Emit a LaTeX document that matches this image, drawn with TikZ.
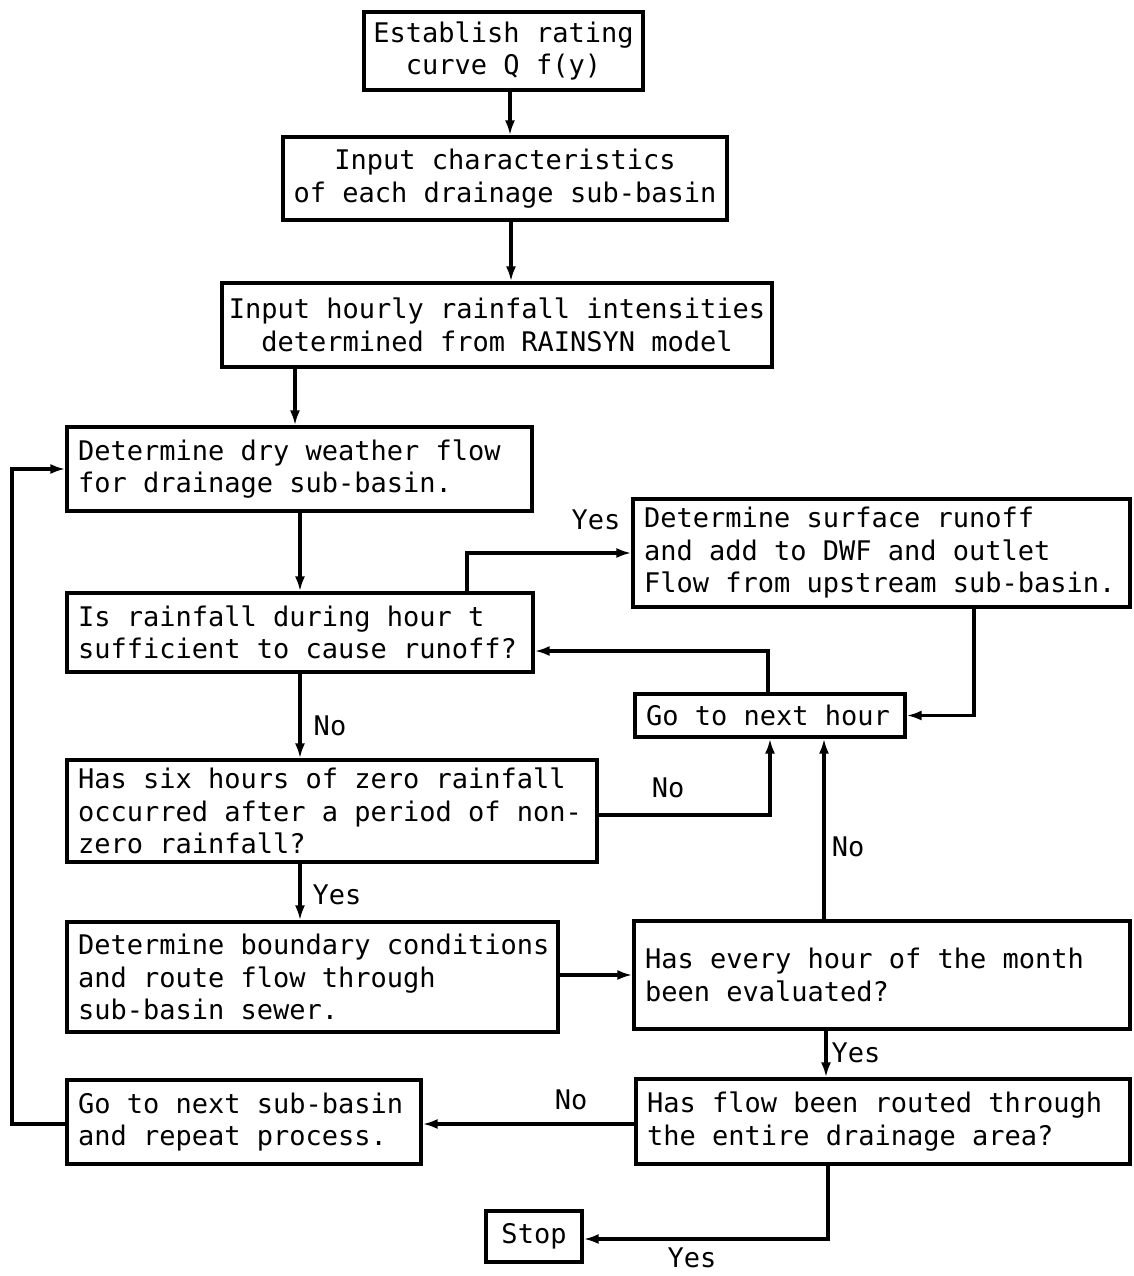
\documentclass[tikz,border=0pt]{standalone}
\usepackage{fontspec}
\newfontfamily\monofam{DejaVu Sans Mono}
\usetikzlibrary{arrows.meta}
\begin{document}
\begin{tikzpicture}[x=1pt,y=-1pt,
  every node/.style={font=\monofam\fontsize{27pt}{32.5pt}\selectfont},
  box/.style={draw, line width=3.2pt, inner xsep=11pt, inner ysep=4pt},
  cbox/.style={box, align=center, inner xsep=6pt},
  lbox/.style={box, align=left, execute at begin node={\spaceskip=0pt\xspaceskip=0pt}},
  arr/.style={line width=3.2pt, -{Latex[length=15pt,width=10pt]}},
  lbl/.style={inner sep=1pt}]
\useasboundingbox (0,0) rectangle (1133,1276);
\fill[white] (0,0) rectangle (1133,1276);

% boxes
\node[cbox, minimum width=279pt, minimum height=78pt] (est) at (503.5,51) {Establish rating\\curve Q f(y)};
\node[cbox, minimum width=444pt, minimum height=83pt] (inp) at (505,178.5) {Input characteristics\\of each drainage sub-basin};
\node[cbox, minimum width=550pt, minimum height=84pt] (rain) at (497,325) {Input hourly rainfall intensities\\determined from RAINSYN model};
\node[lbox, text width=443pt, minimum height=84pt] (dwf) at (299.5,469) {Determine dry weather flow\\for drainage sub-basin.};
\node[lbox, text width=444pt, minimum height=79pt] (suff) at (300,632.5) {Is rainfall during hour t\\\mbox{sufficient to cause runoff?}};
\node[lbox, text width=475pt, minimum height=108pt] (surf) at (881.5,553) {Determine surface runoff\\and add to DWF and outlet\\\mbox{Flow from upstream sub-basin.}};
\node[lbox, text width=248pt, minimum height=43pt] (next) at (770,715.5) {\mbox{Go to next hour}};
\node[lbox, text width=508pt, minimum height=102pt] (six) at (332,811) {Has six hours of zero rainfall\\\mbox{occurred after a period of non-}\\zero rainfall?};
\node[lbox, text width=469pt, minimum height=110pt] (bound) at (312.5,977) {\mbox{Determine boundary conditions}\\and route flow through\\sub-basin sewer.};
\node[lbox, text width=474pt, minimum height=108pt] (every) at (882,975) {Has every hour of the month\\been evaluated?};
\node[lbox, text width=472pt, minimum height=85pt] (routed) at (883,1121.5) {Has flow been routed through\\the entire drainage area?};
\node[lbox, text width=332pt, minimum height=84pt] (nextsb) at (244,1122) {Go to next sub-basin\\and repeat process.};
\node[cbox, minimum width=96pt, minimum height=51pt] (stop) at (534,1236.5) {Stop};

% helper coordinates
\coordinate (c510) at (510,0);
\coordinate (c511) at (511,0);
\coordinate (c295) at (295,0);
\coordinate (c300) at (300,0);
\coordinate (c467) at (467,0);
\coordinate (c974) at (974,0);
\coordinate (c768) at (768,0);
\coordinate (c770) at (770,0);
\coordinate (c824) at (824,0);
\coordinate (c826) at (826,0);
\coordinate (c828) at (828,0);
\coordinate (c12) at (12,0);
\coordinate (c651) at (0,651);
\coordinate (c815) at (0,815);
\coordinate (c975) at (0,975);
\coordinate (c1124) at (0,1124);
\coordinate (c469) at (0,469);
\coordinate (c1239) at (0,1239);

% connectors
\draw[arr] (est.south -| c510) -- (inp.north -| c510);
\draw[arr] (inp.south -| c511) -- (rain.north -| c511);
\draw[arr] (rain.south -| c295) -- (dwf.north -| c295);
\draw[arr] (dwf.south -| c300) -- (suff.north -| c300);
\draw[arr] (suff.north -| c467) |- (surf.west);
\draw[arr] (surf.south -| c974) |- (next.east);
\draw[arr] (next.north -| c768) |- (suff.east |- c651);
\draw[arr] (suff.south -| c300) -- (six.north -| c300);
\draw[arr] (six.east |- c815) -| (next.south -| c770);
\draw[arr] (six.south -| c300) -- (bound.north -| c300);
\draw[arr] (bound.east |- c975) -- (every.west |- c975);
\draw[arr] (every.north -| c824) -- (next.south -| c824);
\draw[arr] (every.south -| c826) -- (routed.north -| c826);
\draw[arr] (routed.west |- c1124) -- (nextsb.east |- c1124);
\draw[arr] (nextsb.west |- c1124) -- (c12 |- c1124) |- (dwf.west |- c469);
\draw[arr] (routed.south -| c828) |- (stop.east |- c1239);

% labels
\node[lbl] (lyes1) at (596,520) {Yes};
\node[lbl] (lno1) at (330,726) {No};
\node[lbl] (lno2) at (668,788) {No};
\node[lbl] (lyes2) at (337,895) {Yes};
\node[lbl] (lno3) at (848,847) {No};
\node[lbl] (lyes3) at (856,1053) {Yes};
\node[lbl] (lno4) at (571,1100) {No};
\node[lbl] (lyes4) at (692,1258) {Yes};
\end{tikzpicture}
\end{document}
